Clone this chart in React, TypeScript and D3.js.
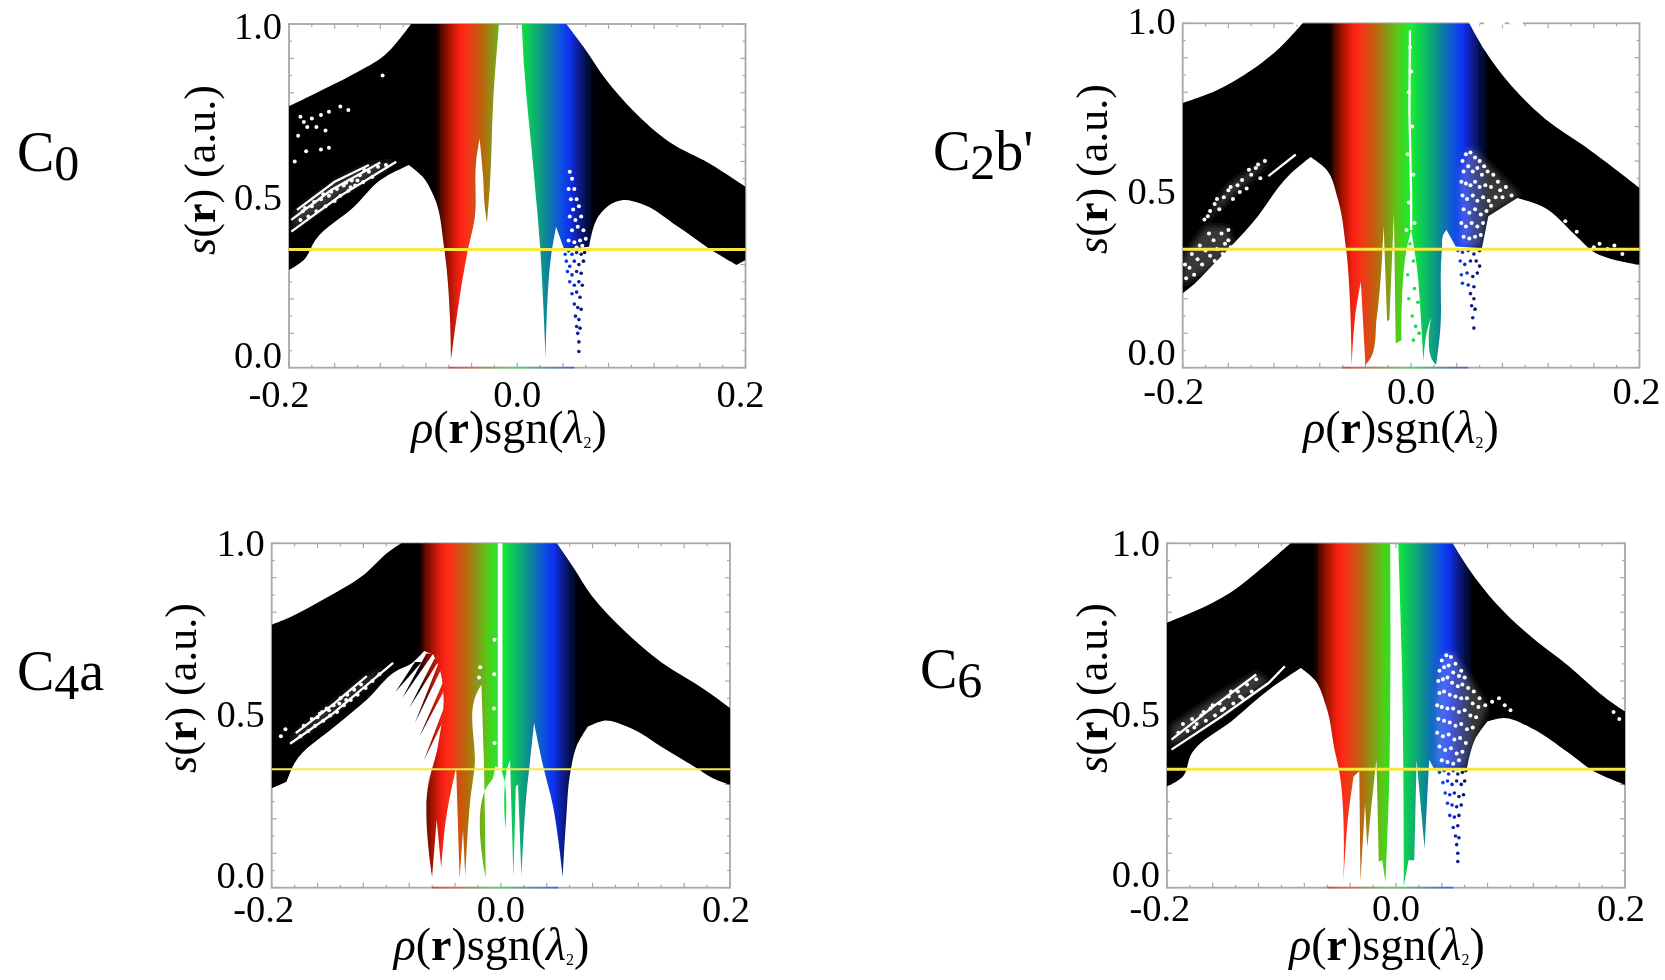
import React from 'react';
import * as d3 from 'd3';

type Pt = [number, number];

// colour of a point depends only on rho
const colorRho = [-0.2, -0.072, -0.062, -0.052, -0.046, -0.03, -0.012, 0, 0.012, 0.024, 0.038, 0.046, 0.056, 0.068, 0.2];
const colorHex = ['#000000', '#000000', '#901000', '#f02010', '#ff2a15', '#b8680f', '#58c818', '#12f030', '#10c060', '#108c90', '#1050e0', '#1030f0', '#081878', '#000000', '#000000'];

const xTickLabels = ['-0.2', '0.0', '0.2'];
const yTickLabels = ['0.0', '0.5', '1.0'];
const yellowLevel = [0.344, 0.344, 0.344, 0.344];

// ---- C0
const c0Left: Pt[] = [[-0.2, 0.761], [-0.177, 0.798], [-0.143, 0.855], [-0.116, 0.91], [-0.096, 0.987], [-0.093, 1], [-0.016, 1], [-0.021, 0.779], [-0.024, 0.527], [-0.0265, 0.42], [-0.0285, 0.47], [-0.03, 0.56], [-0.033, 0.667], [-0.036, 0.6], [-0.0375, 0.43], [-0.043, 0.347], [-0.053, 0.148], [-0.058, 0.022], [-0.059, 0.148], [-0.064, 0.347], [-0.073, 0.498], [-0.083, 0.556], [-0.095, 0.59], [-0.12, 0.546], [-0.143, 0.468], [-0.177, 0.371], [-0.187, 0.313], [-0.2, 0.284]];
const c0Right: Pt[] = [[0.004, 1], [0.043, 1], [0.058, 0.934], [0.078, 0.837], [0.101, 0.75], [0.135, 0.653], [0.168, 0.595], [0.2, 0.527], [0.2, 0.313], [0.192, 0.299], [0.168, 0.347], [0.141, 0.41], [0.108, 0.478], [0.093, 0.488], [0.083, 0.478], [0.071, 0.44], [0.063, 0.352], [0.041, 0.345], [0.034, 0.41], [0.03, 0.333], [0.025, 0.027], [0.02, 0.352], [0.014, 0.585], [0.006, 0.875]];
const c0Streaks: Pt[][] = [
  [[-0.198, 0.396], [-0.156, 0.498], [-0.106, 0.599]],
  [[-0.198, 0.43], [-0.163, 0.517], [-0.12, 0.597]],
  [[-0.193, 0.459], [-0.16, 0.541], [-0.13, 0.59]],
];
const c0Haze: Pt[][] = [[[-0.198, 0.4], [-0.193, 0.46], [-0.16, 0.54], [-0.13, 0.59], [-0.106, 0.6], [-0.156, 0.5]]];
const c0White: Pt[] = [[-0.19, 0.73], [-0.187, 0.715], [-0.184, 0.7], [-0.18, 0.725], [-0.176, 0.7], [-0.172, 0.735], [-0.168, 0.69], [-0.165, 0.745], [-0.155, 0.76], [-0.148, 0.75], [-0.192, 0.675], [-0.185, 0.63], [-0.172, 0.635], [-0.165, 0.64], [-0.195, 0.6], [-0.118, 0.85], [-0.19, 0.43], [-0.188, 0.455], [-0.183, 0.44], [-0.18, 0.47], [-0.176, 0.455], [-0.172, 0.49], [-0.168, 0.47], [-0.165, 0.5], [-0.16, 0.485], [-0.158, 0.52], [-0.155, 0.5], [-0.152, 0.53], [-0.148, 0.515], [-0.145, 0.545], [-0.142, 0.53], [-0.138, 0.56], [-0.135, 0.54], [-0.13, 0.57], [-0.127, 0.555], [-0.122, 0.585], [-0.115, 0.59], [-0.17, 0.505], [-0.163, 0.512], [-0.15, 0.538], [-0.146, 0.525], [-0.14, 0.545], [-0.134, 0.575], [-0.178, 0.482], [-0.186, 0.465], [0.046, 0.57], [0.048, 0.55], [0.045, 0.52], [0.05, 0.52], [0.047, 0.49], [0.052, 0.49], [0.049, 0.46], [0.054, 0.47], [0.046, 0.44], [0.051, 0.43], [0.056, 0.44], [0.048, 0.4], [0.053, 0.41], [0.058, 0.4], [0.045, 0.37], [0.05, 0.365], [0.055, 0.37], [0.06, 0.375], [0.052, 0.35], [0.057, 0.355]];
const c0Blue: Pt[] = [[0.042, 0.33], [0.045, 0.34], [0.048, 0.33], [0.052, 0.335], [0.056, 0.33], [0.059, 0.335], [0.043, 0.31], [0.046, 0.295], [0.05, 0.31], [0.054, 0.3], [0.058, 0.31], [0.044, 0.28], [0.048, 0.27], [0.052, 0.28], [0.056, 0.275], [0.046, 0.25], [0.05, 0.24], [0.054, 0.25], [0.057, 0.24], [0.048, 0.215], [0.052, 0.22], [0.055, 0.205], [0.05, 0.185], [0.053, 0.175], [0.056, 0.17], [0.051, 0.15], [0.054, 0.14], [0.052, 0.12], [0.055, 0.115], [0.053, 0.1], [0.054, 0.075], [0.054, 0.047]];

// ---- C2b'
const c2Outline: Pt[] = [[-0.2, 0.769], [-0.172, 0.803], [-0.139, 0.866], [-0.115, 0.929], [-0.095, 1], [0.051, 1], [0.064, 0.924], [0.088, 0.818], [0.118, 0.721], [0.152, 0.643], [0.2, 0.522], [0.2, 0.299], [0.159, 0.338], [0.145, 0.381], [0.115, 0.468], [0.093, 0.493], [0.0676, 0.44], [0.062, 0.347], [0.039, 0.352], [0.031, 0.4], [0.0287, 0.39], [0.027, 0.342], [0.0253, 0.1], [0.022, 0.008], [0.0196, 0.017], [0.0176, 0.148], [0.0135, 0.1], [0.0108, 0.017], [0.0085, 0.148], [0.005, 0.294], [0, 0.4], [-0.004, 0.342], [-0.0085, 0.08], [-0.0135, 0.07], [-0.015, 0.449], [-0.019, 0.14], [-0.021, 0.134], [-0.024, 0.41], [-0.03, 0.148], [-0.037, 0.02], [-0.04, 0.008], [-0.044, 0.25], [-0.049, 0.148], [-0.052, 0.008], [-0.057, 0.347], [-0.064, 0.488], [-0.074, 0.575], [-0.088, 0.612], [-0.105, 0.565], [-0.139, 0.42], [-0.172, 0.304], [-0.196, 0.226], [-0.2, 0.216]];
const c2Streaks: Pt[][] = [
  [[-0.125, 0.556], [-0.101, 0.619]],
  [[-0.001, 0.98], [-0.0015, 0.75], [0, 0.5], [0, 0.4]],
];
const c2Haze: Pt[][] = [
  [[0.043, 0.35], [0.043, 0.55], [0.049, 0.635], [0.056, 0.63], [0.065, 0.6], [0.08, 0.55], [0.095, 0.5], [0.0676, 0.44], [0.062, 0.35]],
  [[-0.182, 0.42], [-0.16, 0.53], [-0.125, 0.61], [-0.13, 0.58], [-0.165, 0.47]],
  [[-0.2, 0.24], [-0.2, 0.32], [-0.18, 0.41], [-0.16, 0.41], [-0.155, 0.34], [-0.18, 0.28]],
];
const c2White: Pt[] = [[0.045, 0.6], [0.048, 0.62], [0.052, 0.625], [0.056, 0.61], [0.06, 0.6], [0.064, 0.585], [0.046, 0.57], [0.05, 0.585], [0.054, 0.57], [0.058, 0.58], [0.062, 0.56], [0.067, 0.57], [0.072, 0.56], [0.076, 0.54], [0.044, 0.54], [0.048, 0.535], [0.052, 0.53], [0.056, 0.54], [0.06, 0.525], [0.065, 0.53], [0.07, 0.525], [0.078, 0.515], [0.083, 0.525], [0.088, 0.5], [0.045, 0.5], [0.049, 0.49], [0.054, 0.5], [0.058, 0.485], [0.063, 0.495], [0.068, 0.485], [0.074, 0.495], [0.08, 0.495], [0.046, 0.46], [0.051, 0.45], [0.056, 0.46], [0.061, 0.445], [0.066, 0.455], [0.07, 0.47], [0.044, 0.42], [0.048, 0.41], [0.053, 0.42], [0.058, 0.41], [0.063, 0.42], [0.046, 0.38], [0.051, 0.375], [0.056, 0.38], [0.061, 0.385], [-0.181, 0.43], [-0.176, 0.455], [-0.172, 0.475], [-0.168, 0.46], [-0.164, 0.495], [-0.16, 0.515], [-0.156, 0.49], [-0.152, 0.53], [-0.148, 0.545], [-0.144, 0.52], [-0.14, 0.56], [-0.136, 0.58], [-0.132, 0.55], [-0.128, 0.6], [-0.178, 0.44], [-0.17, 0.49], [-0.158, 0.525], [-0.15, 0.51], [-0.142, 0.575], [-0.134, 0.59], [-0.197, 0.26], [-0.194, 0.29], [-0.19, 0.27], [-0.187, 0.315], [-0.183, 0.3], [-0.18, 0.34], [-0.176, 0.325], [-0.173, 0.37], [-0.17, 0.345], [-0.166, 0.39], [-0.163, 0.36], [-0.16, 0.4], [-0.158, 0.35], [-0.177, 0.39], [-0.198, 0.3], [-0.192, 0.33], [-0.185, 0.355], [-0.172, 0.31], [-0.165, 0.33], [-0.16, 0.37], [0.16, 0.35], [0.165, 0.36], [0.172, 0.345], [0.178, 0.355], [0.185, 0.33], [0.145, 0.395], [0.135, 0.425], [-0.001, 0.93], [0, 0.86], [-0.002, 0.8], [0.001, 0.7], [-0.003, 0.62], [0.002, 0.56], [-0.002, 0.48], [0.003, 0.42], [-0.004, 0.4]];
const c2Blue: Pt[] = [[0.041, 0.34], [0.045, 0.335], [0.05, 0.34], [0.055, 0.33], [0.06, 0.34], [0.043, 0.31], [0.047, 0.3], [0.052, 0.31], [0.057, 0.31], [0.06, 0.295], [0.044, 0.27], [0.049, 0.275], [0.054, 0.265], [0.058, 0.275], [0.045, 0.245], [0.05, 0.24], [0.055, 0.235], [0.052, 0.215], [0.055, 0.2], [0.053, 0.18], [0.056, 0.17], [0.054, 0.145], [0.055, 0.115], [-0.001, 0.36], [0.002, 0.31], [-0.003, 0.27], [0.003, 0.23], [0.006, 0.19], [-0.002, 0.2], [0.001, 0.15], [0.004, 0.12], [0.007, 0.1], [0.002, 0.08]];
// stretches where the top border of C2b' has dropped out
const c2TopGaps: Pt[] = [[-0.103, -0.095], [0.051, 0.06], [0.064, 0.082], [0.086, 0.098]];

// ---- C4a
const c4Outline: Pt[] = [[-0.2, 0.764], [-0.185, 0.784], [-0.155, 0.837], [-0.121, 0.905], [-0.097, 0.978], [-0.087, 1], [0.049, 1], [0.0625, 0.934], [0.0795, 0.847], [0.1066, 0.75], [0.1406, 0.653], [0.178, 0.575], [0.2, 0.522], [0.2, 0.299], [0.185, 0.318], [0.171, 0.347], [0.144, 0.401], [0.11, 0.468], [0.09, 0.485], [0.076, 0.468], [0.066, 0.41], [0.061, 0.342], [0.057, 0.197], [0.054, 0.032], [0.045, 0.245], [0.037, 0.352], [0.029, 0.478], [0.025, 0.352], [0.023, 0.294], [0.018, 0.027], [0.015, 0.3], [0.013, 0.294], [0.011, 0.032], [0.008, 0.371], [0.006, 0.352], [0.004, 0.173], [0.003, 0.313], [0, 0.347], [-0.005, 0.352], [-0.007, 0.318], [-0.012, 0.294], [-0.013, 0.027], [-0.015, 0.391], [-0.017, 0.59], [-0.021, 0.565], [-0.023, 0.347], [-0.026, 0.274], [-0.031, 0.027], [-0.033, 0.168], [-0.036, 0.027], [-0.039, 0.347], [-0.042, 0.304], [-0.048, 0.197], [-0.052, 0.056], [-0.056, 0.197], [-0.06, 0.032], [-0.063, 0.304], [-0.058, 0.362], [-0.054, 0.43], [-0.05, 0.55], [-0.054, 0.64], [-0.059, 0.677], [-0.067, 0.687], [-0.078, 0.651], [-0.092, 0.628], [-0.117, 0.546], [-0.145, 0.468], [-0.18, 0.362], [-0.187, 0.308], [-0.2, 0.289]];
const c4Teeth: Pt[][] = [
  [[-0.075, 0.655], [-0.069, 0.655], [-0.092, 0.568]],
  [[-0.065, 0.68], [-0.059, 0.68], [-0.086, 0.551]],
  [[-0.058, 0.665], [-0.053, 0.665], [-0.08, 0.522]],
  [[-0.054, 0.655], [-0.049, 0.655], [-0.075, 0.478]],
  [[-0.05, 0.6], [-0.045, 0.6], [-0.071, 0.439]],
  [[-0.05, 0.52], [-0.045, 0.52], [-0.067, 0.371]],
  [[-0.05, 0.46], [-0.046, 0.46], [-0.064, 0.3]],
  [[-0.054, 0.36], [-0.05, 0.36], [-0.066, 0.24]],
];
const c4Holes: Pt[][] = [[[-0.0027, 1], [0.0014, 1], [0.0014, 0.34], [-0.0027, 0.34]]];
const c4Streaks: Pt[][] = [
  [[-0.184, 0.418], [-0.148, 0.502], [-0.094, 0.653]],
  [[-0.179, 0.449], [-0.145, 0.536], [-0.117, 0.614]],
];
const c4Haze: Pt[][] = [[[-0.184, 0.418], [-0.179, 0.449], [-0.145, 0.54], [-0.117, 0.614], [-0.1, 0.64], [-0.148, 0.502]]];
const c4White: Pt[] = [[-0.192, 0.44], [-0.188, 0.46], [-0.175, 0.44], [-0.172, 0.47], [-0.168, 0.455], [-0.165, 0.49], [-0.162, 0.47], [-0.158, 0.505], [-0.155, 0.485], [-0.152, 0.52], [-0.149, 0.5], [-0.146, 0.53], [-0.143, 0.51], [-0.14, 0.55], [-0.137, 0.53], [-0.134, 0.56], [-0.131, 0.545], [-0.128, 0.575], [-0.125, 0.56], [-0.122, 0.59], [-0.118, 0.58], [-0.112, 0.6], [-0.106, 0.62], [-0.16, 0.495], [-0.15, 0.515], [-0.141, 0.535], [-0.135, 0.545], [-0.156, 0.51], [-0.0055, 0.72], [-0.0058, 0.62], [-0.006, 0.52], [-0.0055, 0.42], [-0.018, 0.64], [-0.019, 0.61]];

// ---- C6
const c6Left: Pt[] = [[-0.2, 0.769], [-0.179, 0.798], [-0.145, 0.856], [-0.115, 0.934], [-0.092, 1], [-0.005, 1], [-0.006, 0.294], [-0.009, 0.013], [-0.012, 0.08], [-0.015, 0.076], [-0.017, 0.371], [-0.019, 0.313], [-0.025, 0.114], [-0.027, 0.245], [-0.031, 0.017], [-0.032, 0.338], [-0.037, 0.323], [-0.042, 0.197], [-0.046, 0.008], [-0.05, 0.347], [-0.053, 0.391], [-0.061, 0.527], [-0.071, 0.604], [-0.083, 0.638], [-0.111, 0.575], [-0.142, 0.488], [-0.179, 0.386], [-0.186, 0.323], [-0.2, 0.294]];
const c6Right: Pt[] = [[0.002, 1], [0.0495, 1], [0.064, 0.924], [0.087, 0.827], [0.114, 0.74], [0.151, 0.643], [0.185, 0.546], [0.2, 0.512], [0.2, 0.299], [0.171, 0.342], [0.151, 0.391], [0.118, 0.464], [0.094, 0.493], [0.08, 0.483], [0.069, 0.43], [0.062, 0.347], [0.033, 0.347], [0.029, 0.371], [0.025, 0.114], [0.018, 0.371], [0.016, 0.08], [0.011, 0.08], [0.007, 0.008], [0.005, 0.682]];
const c6Streaks: Pt[][] = [
  [[-0.196, 0.401], [-0.152, 0.498], [-0.111, 0.595], [-0.097, 0.643]],
  [[-0.196, 0.43], [-0.159, 0.527], [-0.122, 0.619]],
];
const c6Haze: Pt[][] = [
  [[0.035, 0.35], [0.036, 0.58], [0.042, 0.68], [0.05, 0.68], [0.06, 0.63], [0.07, 0.58], [0.08, 0.52], [0.072, 0.45], [0.062, 0.35]],
  [[-0.196, 0.41], [-0.196, 0.47], [-0.16, 0.55], [-0.122, 0.625], [-0.111, 0.6], [-0.152, 0.5]],
];
const c6White: Pt[] = [[0.04, 0.66], [0.044, 0.675], [0.048, 0.67], [0.052, 0.65], [0.057, 0.63], [0.038, 0.63], [0.042, 0.64], [0.046, 0.645], [0.05, 0.625], [0.055, 0.615], [0.06, 0.61], [0.037, 0.6], [0.041, 0.605], [0.045, 0.61], [0.049, 0.595], [0.054, 0.585], [0.058, 0.59], [0.063, 0.58], [0.068, 0.57], [0.073, 0.55], [0.038, 0.565], [0.042, 0.57], [0.047, 0.56], [0.052, 0.555], [0.057, 0.55], [0.062, 0.55], [0.067, 0.535], [0.072, 0.525], [0.078, 0.53], [0.084, 0.54], [0.036, 0.53], [0.04, 0.525], [0.045, 0.52], [0.05, 0.52], [0.055, 0.51], [0.06, 0.515], [0.065, 0.5], [0.07, 0.495], [0.037, 0.49], [0.042, 0.485], [0.047, 0.48], [0.052, 0.47], [0.057, 0.475], [0.062, 0.46], [0.067, 0.465], [0.036, 0.45], [0.041, 0.44], [0.046, 0.445], [0.051, 0.43], [0.056, 0.435], [0.061, 0.42], [0.038, 0.41], [0.043, 0.4], [0.048, 0.405], [0.053, 0.39], [0.058, 0.395], [0.04, 0.37], [0.045, 0.365], [0.05, 0.36], [0.055, 0.37], [-0.19, 0.45], [-0.186, 0.475], [-0.182, 0.455], [-0.178, 0.49], [-0.174, 0.475], [-0.17, 0.5], [-0.166, 0.485], [-0.162, 0.52], [-0.158, 0.5], [-0.154, 0.535], [-0.15, 0.52], [-0.146, 0.555], [-0.142, 0.535], [-0.138, 0.57], [-0.134, 0.55], [-0.13, 0.59], [-0.126, 0.57], [-0.122, 0.605], [-0.176, 0.465], [-0.168, 0.51], [-0.16, 0.53], [-0.152, 0.515], [-0.144, 0.57], [-0.136, 0.555], [0.09, 0.55], [0.095, 0.53], [0.1, 0.515], [0.19, 0.51], [0.195, 0.49]];
const c6Blue: Pt[] = [[0.038, 0.335], [0.042, 0.34], [0.046, 0.33], [0.05, 0.34], [0.054, 0.33], [0.058, 0.335], [0.061, 0.34], [0.041, 0.305], [0.045, 0.31], [0.049, 0.3], [0.053, 0.31], [0.057, 0.3], [0.06, 0.31], [0.043, 0.275], [0.047, 0.27], [0.051, 0.275], [0.055, 0.265], [0.059, 0.27], [0.045, 0.245], [0.049, 0.24], [0.053, 0.235], [0.057, 0.24], [0.047, 0.21], [0.051, 0.205], [0.055, 0.21], [0.05, 0.175], [0.054, 0.18], [0.052, 0.15], [0.055, 0.145], [0.053, 0.125], [0.054, 0.1], [0.054, 0.076]];

// where each panel sits on the page
const layouts = [
  { left: 289, right: 745.5, top: 24, bottom: 367.7, sub: '0', tail: '', tagX: 17, tagY: 171, xLabelX: 509, xLabelY: 443, yLabelX: 215, yLabelY: 170, xOff: [-10, 0, -5], tickY: 39, yOff: [0, 14, 15] },
  { left: 1182.7, right: 1639.5, top: 23.3, bottom: 367.7, sub: '2', tail: "b'", tagX: 933, tagY: 170, xLabelX: 1401, xLabelY: 443, yLabelX: 1107, yLabelY: 169, xOff: [-9, 0, -3], tickY: 36, yOff: [-3, 8, 11] },
  { left: 271.7, right: 730, top: 543.3, bottom: 887.7, sub: '4', tail: 'a', tagX: 17, tagY: 690, xLabelX: 491.5, xLabelY: 960, yLabelX: 196, yLabelY: 688, xOff: [-8, 0, -4], tickY: 34, yOff: [0, 11, 13] },
  { left: 1166.9, right: 1625, top: 543.3, bottom: 887.7, sub: '6', tail: '', tagX: 920, tagY: 688, xLabelX: 1387, xLabelY: 960, yLabelX: 1107, yLabelY: 688, xOff: [-7, 0, -4], tickY: 33, yOff: [-1, 11, 13] },
];

const panelData = [
  { pieces: [c0Left, c0Right], teeth: [] as Pt[][], holes: [] as Pt[][], streaks: c0Streaks, haze: c0Haze, white: c0White, blue: c0Blue, topGaps: [] as Pt[] },
  { pieces: [c2Outline], teeth: [] as Pt[][], holes: [] as Pt[][], streaks: c2Streaks, haze: c2Haze, white: c2White, blue: c2Blue, topGaps: c2TopGaps },
  { pieces: [c4Outline], teeth: c4Teeth, holes: c4Holes, streaks: c4Streaks, haze: c4Haze, white: c4White, blue: [] as Pt[], topGaps: [] as Pt[] },
  { pieces: [c6Left, c6Right], teeth: [] as Pt[][], holes: [] as Pt[][], streaks: c6Streaks, haze: c6Haze, white: c6White, blue: c6Blue, topGaps: [] as Pt[] },
];

const serif = "'Liberation Serif', serif";
const frameColor = '#a8a8a8';
const colorOf = d3.scaleLinear<string>().domain(colorRho).range(colorHex);
const sharpTurn = Math.PI / 4.5;

// curve through the gentle stretches of an outline, keep the spikes straight
const smoothRun = d3.line<Pt>().curve(d3.curveCatmullRom.alpha(1));
function outlinePath(pts: Pt[]) {
  const n = pts.length;
  const turn = (i: number) => {
    const [ax, ay] = pts[(i + n - 1) % n];
    const [bx, by] = pts[i];
    const [cx, cy] = pts[(i + 1) % n];
    let a = Math.atan2(cy - by, cx - bx) - Math.atan2(by - ay, bx - ax);
    while (a > Math.PI) a -= 2 * Math.PI;
    while (a < -Math.PI) a += 2 * Math.PI;
    return Math.abs(a);
  };
  const corners = d3.range(n).filter(i => turn(i) > sharpTurn);
  if (!corners.length) return smoothRun(pts) + 'Z';
  let path = '';
  corners.forEach((c, k) => {
    const next = corners[(k + 1) % corners.length];
    const run: Pt[] = [pts[c]];
    for (let i = (c + 1) % n; ; i = (i + 1) % n) {
      run.push(pts[i]);
      if (i === next) break;
    }
    const piece = smoothRun(run) ?? '';
    path += k === 0 ? piece : 'L' + piece.slice(1);
  });
  return path + 'Z';
}

function Panel({ index }: { index: number }) {
  const l = layouts[index];
  const d = panelData[index];
  const x = d3.scaleLinear().domain([-0.2, 0.2]).range([l.left, l.right]);
  const y = d3.scaleLinear().domain([0, 1]).range([l.bottom, l.top]);
  const toPx = (pts: Pt[]) => pts.map(p => [x(p[0]), y(p[1])] as Pt);
  const line = d3.line<Pt>().x(p => x(p[0])).y(p => y(p[1]));
  const closed = (pts: Pt[]) => line(pts) + 'Z';
  const gradId = `rainbow${index}`;
  const clipId = `plot${index}`;

  return (
    <g>
      <defs>
        <linearGradient id={gradId} gradientUnits="userSpaceOnUse" x1={x(-0.2)} x2={x(0.2)} y1={0} y2={0}>
          {colorRho.map((r, i) => <stop key={i} offset={(r + 0.2) / 0.4} stopColor={colorHex[i]} />)}
        </linearGradient>
        <clipPath id={clipId}>
          <rect x={l.left} y={l.top} width={l.right - l.left} height={l.bottom - l.top} />
        </clipPath>
      </defs>
      <g filter="url(#soft)">
        <rect x={l.left} y={l.top} width={l.right - l.left} height={l.bottom - l.top} fill="none" stroke={frameColor} strokeWidth={1.8} />
        {x.ticks(20).map((t, i) => (
          <g key={i} stroke={frameColor} strokeWidth={1.2}>
            <line x1={x(t)} x2={x(t)} y1={l.bottom} y2={l.bottom - (i % 2 ? 3 : 5)} />
            <line x1={x(t)} x2={x(t)} y1={l.top} y2={l.top + (i % 2 ? 3 : 5)} />
          </g>
        ))}
        {y.ticks(20).map((t, i) => (
          <g key={i} stroke={frameColor} strokeWidth={1.2}>
            <line x1={l.left} x2={l.left + (i % 2 ? 3 : 5)} y1={y(t)} y2={y(t)} />
            <line x1={l.right} x2={l.right - (i % 2 ? 3 : 5)} y1={y(t)} y2={y(t)} />
          </g>
        ))}
        {d.topGaps.map((g, i) => <line key={i} x1={x(g[0])} x2={x(g[1])} y1={l.top} y2={l.top} stroke="#fff" strokeWidth={3} />)}
        <line x1={x(-0.06)} x2={x(0.05)} y1={l.bottom} y2={l.bottom} stroke={`url(#${gradId})`} strokeWidth={1.8} opacity={0.55} />
        <g clipPath={`url(#${clipId})`}>
          {d.pieces.map((pts, i) => <path key={i} d={outlinePath(toPx(pts))} fill={`url(#${gradId})`} />)}
          {d.teeth.map((pts, i) => <path key={i} d={closed(pts)} fill={`url(#${gradId})`} />)}
          {d.holes.map((pts, i) => <path key={i} d={closed(pts)} fill="#fff" />)}
          {d.haze.map((pts, i) => <path key={i} d={closed(pts)} fill="#fff" opacity={0.22} filter="url(#hazeBlur)" />)}
          {d.streaks.map((pts, i) => <path key={i} d={line(pts) ?? ''} fill="none" stroke="#fff" strokeWidth={2.3} />)}
          {d.white.map((p, i) => <circle key={i} cx={x(p[0])} cy={y(p[1])} r={2} fill="#fff" />)}
          {d.blue.map((p, i) => <circle key={i} cx={x(p[0])} cy={y(p[1])} r={1.8} fill={colorOf(p[0])} />)}
        </g>
        <line x1={l.left} x2={l.right} y1={y(yellowLevel[index])} y2={y(yellowLevel[index])} stroke="#f7e83c" strokeWidth={index === 2 ? 2 : 3} />
      </g>

      <g filter="url(#softText)" fontFamily={serif} fill="#000">
        {xTickLabels.map((t, i) => (
          <text key={t} x={x(+t) + l.xOff[i]} y={l.bottom + l.tickY} fontSize={38.5} textAnchor="middle">{t}</text>
        ))}
        {yTickLabels.map((t, i) => (
          <text key={t} x={l.left - 7} y={y(+t) + l.yOff[i]} fontSize={38.5} textAnchor="end">{t}</text>
        ))}
        <text x={l.xLabelX} y={l.xLabelY} fontSize={46} textAnchor="middle">
          <tspan fontStyle="italic">ρ</tspan>(<tspan fontWeight="bold">r</tspan>)sgn(<tspan fontStyle="italic">λ</tspan><tspan fontSize={16} dy={5}>2</tspan><tspan dy={-5}>)</tspan>
        </text>
        <text transform={`translate(${l.yLabelX},${l.yLabelY}) rotate(-90)`} fontSize={44} textAnchor="middle">
          <tspan fontStyle="italic">s</tspan>(<tspan fontWeight="bold">r</tspan>) (a.u.)
        </text>
        <text x={l.tagX} y={l.tagY} fontSize={56}>
          C<tspan fontSize={50} dy={9}>{l.sub}</tspan>{l.tail && <tspan fontSize={56} dy={-9}>{l.tail}</tspan>}
        </text>
      </g>
    </g>
  );
}

export default function App() {
  return (
    <svg width={1665} height={980} style={{ position: 'absolute', left: 0, top: 0, background: '#fff' }}>
      <defs>
        <filter id="soft" filterUnits="userSpaceOnUse" x={0} y={0} width={1665} height={980}>
          <feGaussianBlur stdDeviation={0.6} />
        </filter>
        <filter id="softText" filterUnits="userSpaceOnUse" x={0} y={0} width={1665} height={980}>
          <feGaussianBlur stdDeviation={0.4} />
        </filter>
        <filter id="hazeBlur" filterUnits="userSpaceOnUse" x={0} y={0} width={1665} height={980}>
          <feGaussianBlur stdDeviation={3} />
        </filter>
      </defs>
      {layouts.map((_, i) => <Panel key={i} index={i} />)}
    </svg>
  );
}
